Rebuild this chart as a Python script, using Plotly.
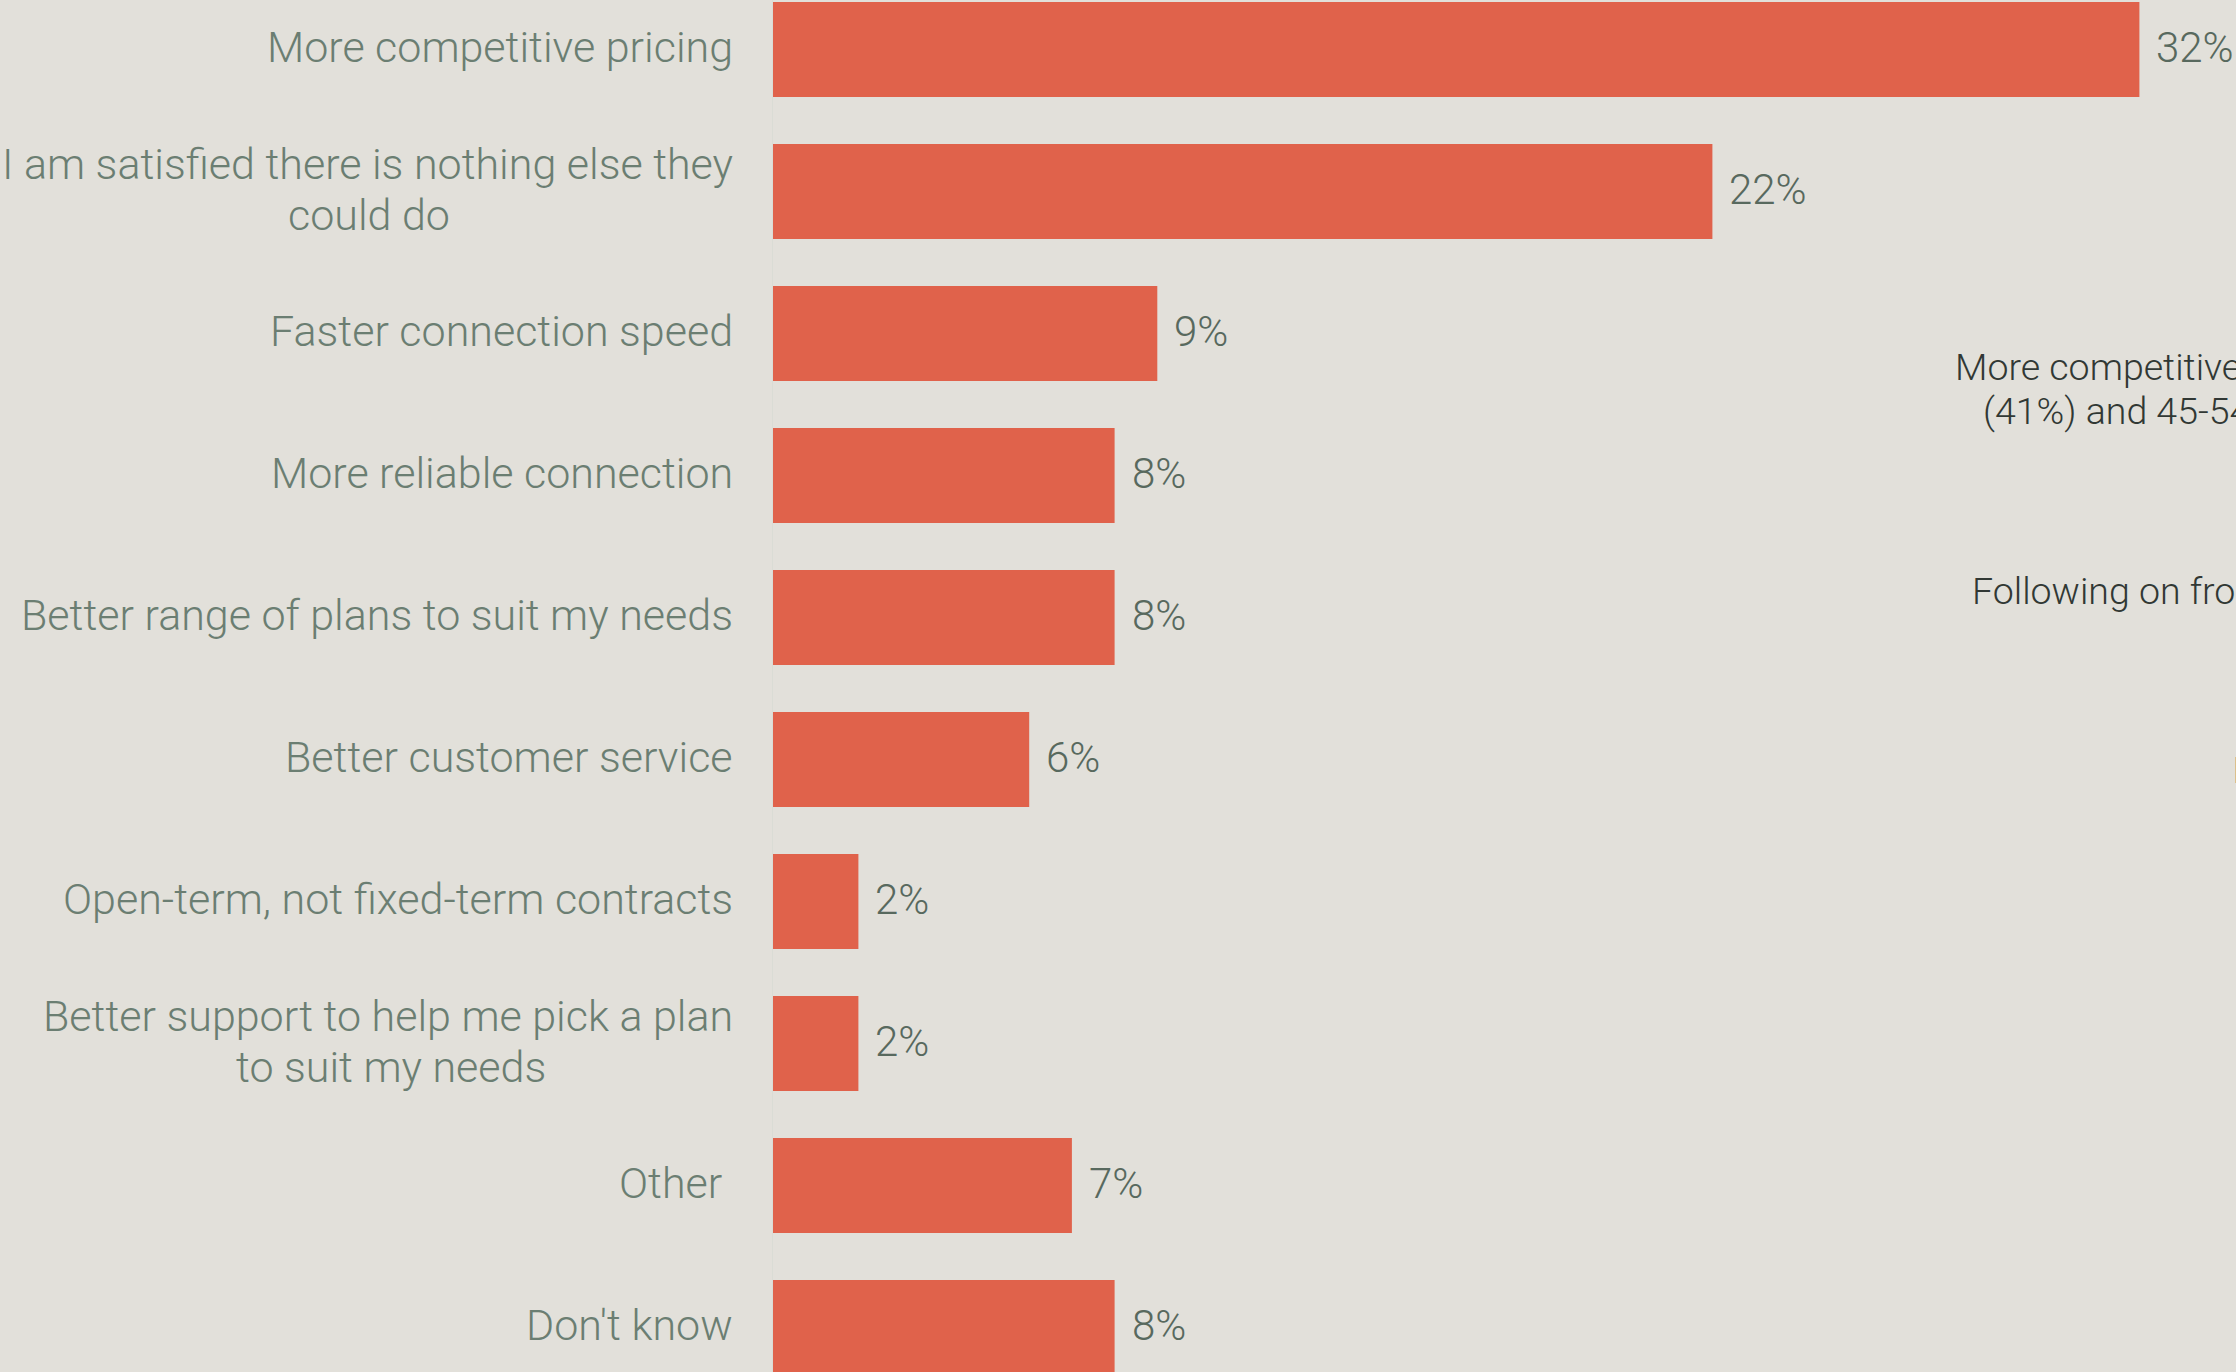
import plotly.graph_objects as go

categories = [
    "More competitive pricing",
    "I am satisfied there is nothing else they<br>could do",
    "Faster connection speed",
    "More reliable connection",
    "Better range of plans to suit my needs",
    "Better customer service",
    "Open-term, not fixed-term contracts",
    "Better support to help me pick a plan<br>to suit my needs",
    "Other\u00a0",
    "Don't know",
]
values = [32, 22, 9, 8, 8, 6, 2, 2, 7, 8]
value_labels = [f"{v}%" for v in values]

side_notes = [
    "More competitive pricing",
    "(41%) and 45-54 year olds",
    "Following on from",
    "In",
]

W, H = 2236, 1372
L = 773
PW = W - L
BG = "#e2e0da"
BAR = "#e0624b"
CAT_COL = "#6b7e72"
VAL_COL = "#58695e"
FONT = "Roboto"
CAT_SIZE = 43
LABEL_RIGHT = 735
LIFT = 2.5
# centre x (px) of the second line of wrapped labels
SECOND_LINE_CENTER = {1: 369, 7: 391}

fig = go.Figure()
fig.add_trace(go.Bar(
    x=values, y=list(range(len(categories))), orientation="h",
    marker=dict(color=BAR, line=dict(width=0)),
    hoverinfo="skip",
))

annotations = []
cat_font = dict(family=FONT, size=CAT_SIZE, color=CAT_COL, weight=300)
for i, (c, v, t) in enumerate(zip(categories, values, value_labels)):
    lines = c.split("<br>")
    if len(lines) == 1:
        annotations.append(dict(
            x=(LABEL_RIGHT - L) / PW, xref="paper", y=i, yref="y",
            text=c, showarrow=False, xanchor="right", yanchor="middle",
            yshift=LIFT, font=cat_font,
        ))
    else:
        annotations.append(dict(
            x=(LABEL_RIGHT - L) / PW, xref="paper", y=i, yref="y",
            text=lines[0], showarrow=False, xanchor="right", yanchor="middle",
            yshift=25.5 + LIFT, font=cat_font,
        ))
        annotations.append(dict(
            x=(SECOND_LINE_CENTER[i] - L) / PW, xref="paper", y=i, yref="y",
            text=lines[1], showarrow=False, xanchor="center", yanchor="middle",
            yshift=-25.5 + LIFT, font=cat_font,
        ))
    annotations.append(dict(
        x=v, xref="x", y=i, yref="y", text=t, showarrow=False,
        xanchor="left", yanchor="middle", xshift=15, yshift=LIFT,
        font=dict(family=FONT, size=42, color=VAL_COL, weight=300),
    ))

note_pos = [(1953, 367), (1981, 411), (1970, 591), (2230, 770)]
for txt, (px, py) in zip(side_notes, note_pos):
    annotations.append(dict(
        x=(px - L) / PW, xref="paper", y=1 - py / H, yref="paper",
        text=txt, showarrow=False, xanchor="left", yanchor="middle",
        font=dict(family=FONT, size=37.5, color="#313834", weight=300),
    ))

fig.update_layout(
    width=W, height=H,
    margin=dict(l=L, r=0, t=0, b=0),
    paper_bgcolor=BG, plot_bgcolor=BG,
    bargap=0.331,
    showlegend=False,
    annotations=annotations,
    xaxis=dict(range=[0, PW / 42.7], visible=False, fixedrange=True),
    yaxis=dict(range=[9.313, -0.349], showticklabels=False, showgrid=False,
               zeroline=False, showline=True, linecolor="#dadcd5", linewidth=1,
               ticks="", fixedrange=True),
)

fig.write_html("out.html", config={"displayModeBar": False})
